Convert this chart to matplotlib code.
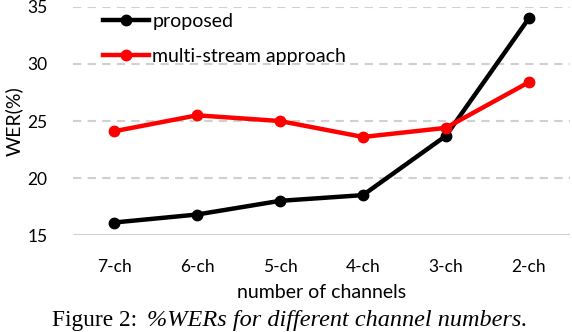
import matplotlib.pyplot as plt

channels = ['7-ch', '6-ch', '5-ch', '4-ch', '3-ch', '2-ch']
proposed = [16.1, 16.8, 18.0, 18.5, 23.7, 34.0]
multi_stream = [24.1, 25.5, 25.0, 23.6, 24.4, 28.4]

plt.rcParams['font.family'] = ['Lato', 'DejaVu Sans']

fig = plt.figure(figsize=(5.72, 3.32), dpi=100)
ax = fig.add_axes([0.127, 0.292, 0.87, 0.687])

x = range(len(channels))
ax.plot(x, proposed, color='black', lw=3.2, marker='o', ms=7.5, label='proposed', zorder=3)
ax.plot(x, multi_stream, color='red', lw=3.2, marker='o', ms=7.5, label='multi-stream approach', zorder=4)

ax.set_xlim(-0.5, len(channels) - 0.5)
ax.set_ylim(15, 35)
ax.set_yticks([15, 20, 25, 30, 35])
ax.set_xticks(list(x))
ax.set_xticklabels(channels)
for s in ax.spines.values():
    s.set_visible(False)
ax.tick_params(length=0, labelsize=12.5, pad=17)
ax.tick_params(axis='y', pad=18)
for v in [20, 25, 30, 35]:
    ax.axhline(v, color='#d0d0d0', lw=1.5, ls=(0, (4, 3)), zorder=1)
ax.axhline(15, color='#d0d0d0', lw=1.5, zorder=1)

ax.set_xlabel('number of channels', fontsize=14, labelpad=7)
ax.set_ylabel('WER(%)', fontsize=14, labelpad=3)

ax.legend(loc='upper left', bbox_to_anchor=(0.025, 1.05), frameon=False, fontsize=14,
          handlelength=2.4, handletextpad=0.15, labelspacing=0.9)

fig.text(137 / 572, 0.018, 'Figure 2:', ha='right', va='baseline',
         family='Liberation Serif', fontsize=16.8)
fig.text(147 / 572, 0.018, '%WERs for different channel numbers.', ha='left', va='baseline',
         family='Liberation Serif', style='italic', fontsize=17.5)

fig.savefig('out.png', dpi=100)
